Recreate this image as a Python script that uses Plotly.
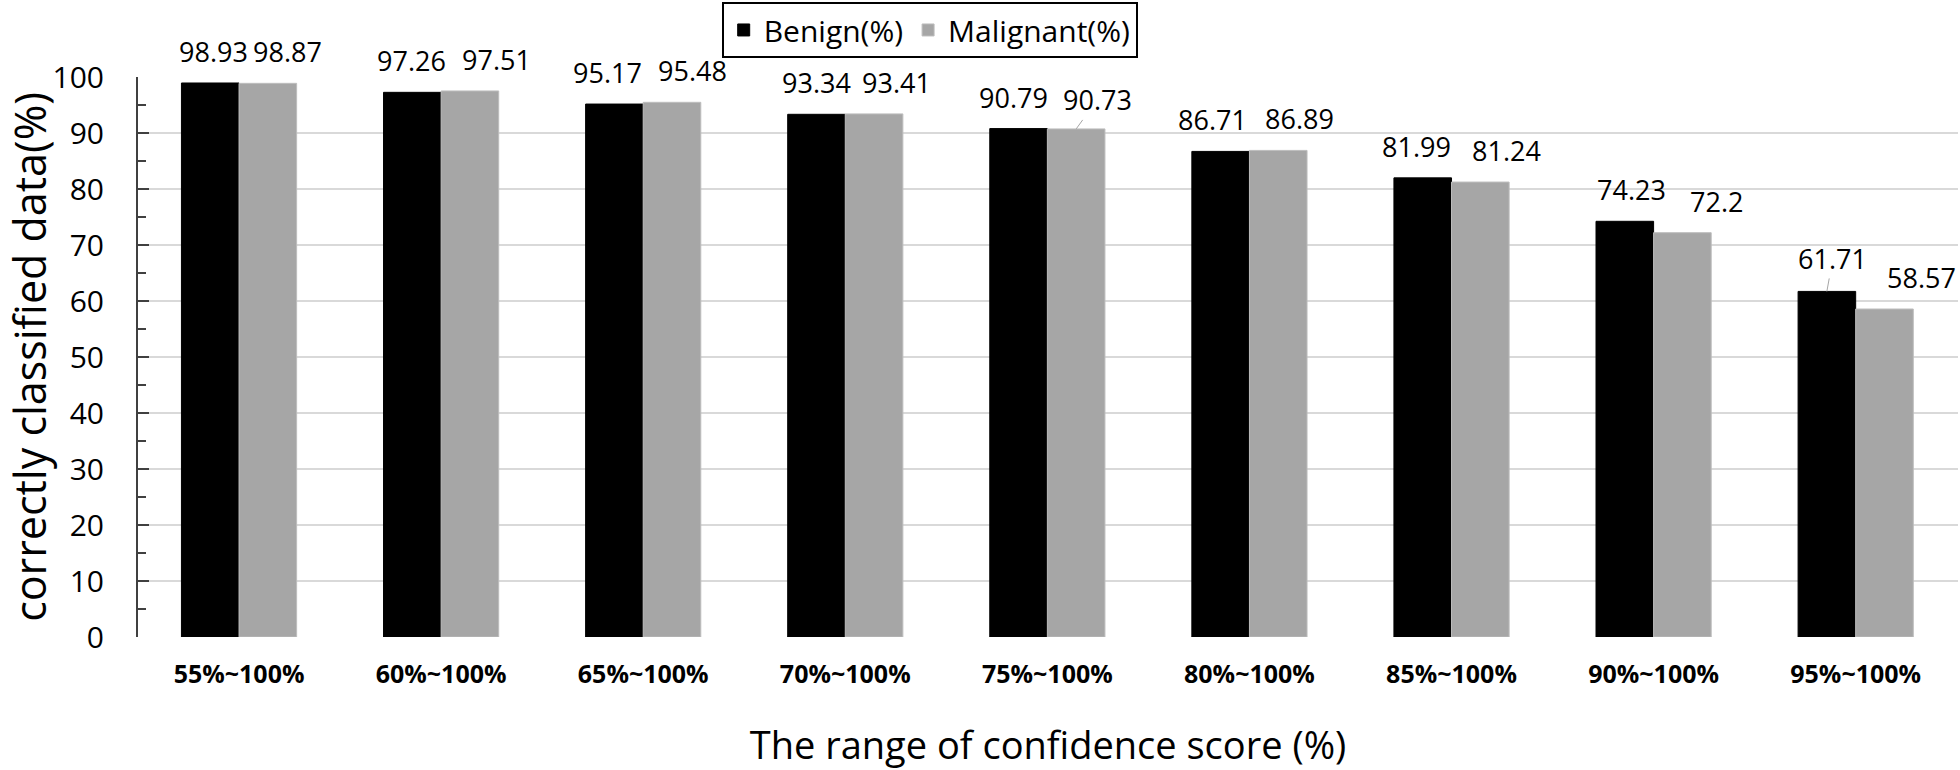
import plotly.graph_objects as go

categories = ["55%~100%", "60%~100%", "65%~100%", "70%~100%", "75%~100%",
              "80%~100%", "85%~100%", "90%~100%", "95%~100%"]
benign = [98.93, 97.26, 95.17, 93.34, 90.79, 86.71, 81.99, 74.23, 61.71]
malignant = [98.87, 97.51, 95.48, 93.41, 90.73, 86.89, 81.24, 72.2, 58.57]
y_ticks = [0, 10, 20, 30, 40, 50, 60, 70, 80, 90, 100]

# label placement tweaks (pixels, relative to the bar centre), as in the original
benign_label_dx = [3, -1, -7, 0, -5, -8, -6, 7, 6]
malig_label_dx = [20, 27, 20, 22, 21, 21, 26, 34, 37]
leader_labels = {("Benign", 8): (6, -33), ("Malignant", 4): (21, -29)}

FONT = "Open Sans"
W, H = 1960, 770
ML, MR, MT, MB = 138, 2, 77, 133
BARGAP = 0.43

fig = go.Figure()
fig.add_trace(go.Bar(
    name="Benign(%)", x=categories, y=benign,
    marker=dict(color="#000000", line=dict(color="#000000", width=1)),
))
fig.add_trace(go.Bar(
    name="Malignant(%)", x=categories, y=malignant,
    marker=dict(color="#A6A6A6", line=dict(color="#BDBDBD", width=1)),
))

cat_px = (W - ML - MR) / len(categories)
half = cat_px * (1 - BARGAP) / 4
annotations = []
for name, vals, sign, dxs in (("Benign", benign, -1, benign_label_dx),
                              ("Malignant", malignant, 1, malig_label_dx)):
    for i, (c, v) in enumerate(zip(categories, vals)):
        common = dict(x=c, y=v, xref="x", yref="y", text=str(v),
                      font=dict(family=FONT, size=27, color="#000000"))
        if (name, i) in leader_labels:
            ax, ay = leader_labels[(name, i)]
            annotations.append(dict(**common, showarrow=True, arrowhead=0,
                                    arrowwidth=1, arrowcolor="#A6A6A6",
                                    ax=ax, ay=ay, xshift=sign * half, standoff=0))
        else:
            annotations.append(dict(**common, showarrow=False, yanchor="bottom",
                                    xanchor="center", xshift=sign * half + dxs[i],
                                    yshift=11))

fig.update_layout(
    width=W, height=H,
    barmode="group", bargap=BARGAP, bargroupgap=0,
    plot_bgcolor="white", paper_bgcolor="white",
    margin=dict(l=ML, r=MR, t=MT, b=MB, autoexpand=False),
    font=dict(family=FONT, color="#000000"),
    showlegend=True,
    annotations=annotations,
    legend=dict(
        orientation="h", x=0.435, xanchor="center", y=1.134, yref="paper",
        yanchor="top", bordercolor="#000000", borderwidth=2,
        font=dict(family=FONT, size=30, color="#000000"),
        traceorder="normal",
    ),
    xaxis=dict(
        automargin=False,
        tickfont=dict(family=FONT, size=25, color="#000000", weight="bold"),
        showline=False, ticks="", showgrid=False, zeroline=False,
        ticklabelstandoff=20,
        title=dict(text="The range of confidence score (%)",
                   font=dict(family=FONT, size=38, color="#000000"), standoff=56),
    ),
    yaxis=dict(
        automargin=False,
        range=[0, 100], tickvals=y_ticks,
        tickfont=dict(family=FONT, size=30, color="#000000"),
        showline=True, linecolor="#404040", linewidth=2,
        ticks="inside", ticklen=11, tickwidth=2, tickcolor="#404040",
        ticklabelstandoff=26,
        minor=dict(dtick=5, ticks="inside", ticklen=8, tickwidth=2,
                   tickcolor="#404040", showgrid=False),
        showgrid=True, gridcolor="#D9D9D9", gridwidth=2, zeroline=False,
        title=dict(text="correctly classified data(%)",
                   font=dict(family=FONT, size=43, color="#000000"), standoff=6),
    ),
)

fig.write_html("out.html", config={"displayModeBar": False},
               post_script="document.body.style.margin='0';")
